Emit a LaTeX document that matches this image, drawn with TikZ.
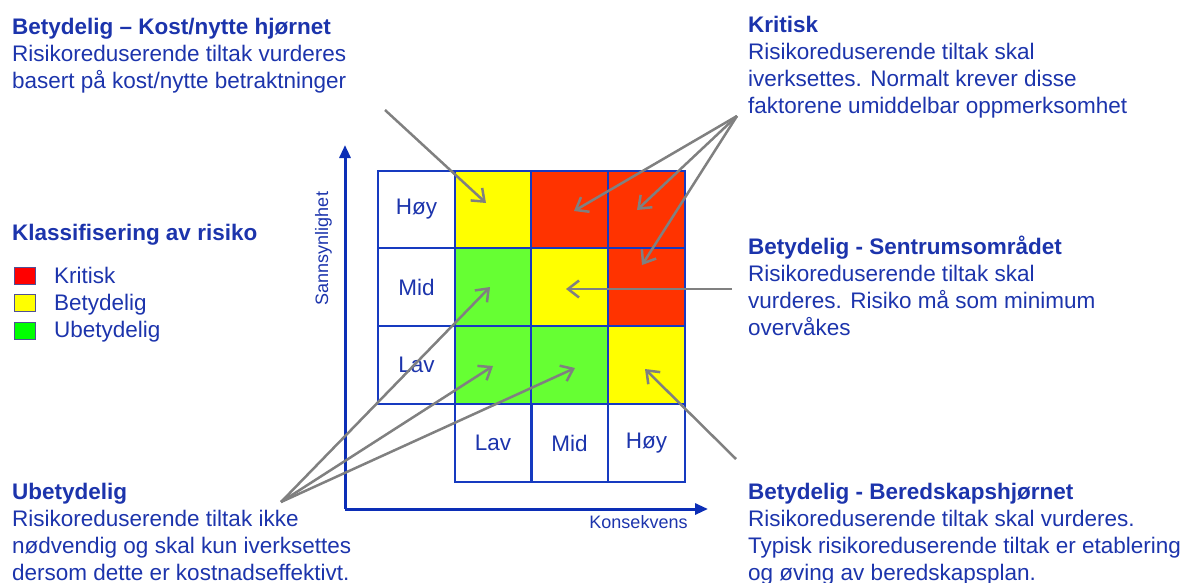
\documentclass[tikz,border=0pt]{standalone}
\usepackage{fontspec}
\setmainfont{Liberation Sans}
\usetikzlibrary{arrows.meta}
\definecolor{txtblue}{RGB}{28,52,172}
\definecolor{gridblue}{RGB}{22,58,192}
\definecolor{axisblue}{RGB}{12,46,182}
\definecolor{cellred}{RGB}{255,51,0}
\definecolor{cellyellow}{RGB}{255,255,0}
\definecolor{cellgreen}{RGB}{102,255,51}
\definecolor{legred}{RGB}{255,0,0}
\definecolor{leggreen}{RGB}{0,255,0}
\definecolor{legframe}{RGB}{80,80,150}
\definecolor{arrowgray}{RGB}{128,128,128}
\begin{document}
\begin{tikzpicture}[x=1pt,y=-1pt,
  txt/.style={text=txtblue,font=\fontsize{22.5}{27}\selectfont,inner sep=0pt,align=left,anchor=north west},
  axlabel/.style={text=txtblue,font=\fontsize{18}{20}\selectfont,inner sep=0pt,anchor=base},
  cell/.style={draw=gridblue,line width=2pt,minimum width=77pt,minimum height=77.5pt,inner sep=0pt,
    text=txtblue,font=\fontsize{22.5}{27}\selectfont},
  legbox/.style={draw=legframe,line width=1pt,minimum width=21pt,minimum height=17pt,inner sep=0pt},
  legtxt/.style={text=txtblue,font=\fontsize{22.5}{27}\selectfont,inner sep=0pt,anchor=base west},
  axisline/.style={draw=axisblue,line width=3pt,-{Triangle[length=13pt,width=11pt]}},
  garrow/.style={draw=arrowgray,line width=2.5pt,-{Straight Barb[length=11pt,width=17pt]}}
]
\useasboundingbox (0,0) rectangle (1189,582);
\clip (0,0) rectangle (1189,582);

% text blocks
\node[txt] (tl) at (12,17.5) {\textbf{Betydelig – Kost/nytte hjørnet}\\Risikoreduserende tiltak vurderes\\basert på kost/nytte betraktninger};
\node[txt] (kr) at (748,15.5) {\textbf{Kritisk}\\Risikoreduserende tiltak skal\\iverksettes. Normalt krever disse\\faktorene umiddelbar oppmerksomhet};
\node[txt] (se) at (748,235.5) {\textbf{Betydelig - Sentrumsområdet}\\Risikoreduserende tiltak skal\\vurderes. Risiko må som minimum\\overvåkes};
\node[txt] (be) at (748,482.5) {\textbf{Betydelig - Beredskapshjørnet}\\Risikoreduserende tiltak skal vurderes.\\Typisk risikoreduserende tiltak er etablering\\og øving av beredskapsplan.};
\node[txt] (ub) at (12,482.5) {\textbf{Ubetydelig}\\Risikoreduserende tiltak ikke\\nødvendig og skal kun iverksettes\\dersom dette er kostnadseffektivt.};

% legend
\node[legtxt] (lh) at (12,240) {\textbf{Klassifisering av risiko}};
\node[legbox,fill=legred] (lb1) at (25.2,275.8) {};
\node[legbox,fill=cellyellow] (lb2) at (25.2,302.7) {};
\node[legbox,fill=leggreen] (lb3) at (25.2,331) {};
\node[legtxt] (lt1) at (54,283) {Kritisk};
\node[legtxt] (lt2) at (54,310) {Betydelig};
\node[legtxt] (lt3) at (54,337.5) {Ubetydelig};

% axes
\coordinate (o) at (345,509);
\coordinate (ytop) at (345,145);
\coordinate (xend) at (708,509);
\draw[axisline] (o) -- (ytop);
\draw[axisline] (o) -- (xend);
\node[axlabel,rotate=90] (ylab) at (328,248.5) {Sannsynlighet};
\node[axlabel] (xlab) at (638.5,528) {Konsekvens};

% grid
\node[cell] (lh1) at (416.5,209.5) {Høy};
\node[cell] (lm1) at (416.5,287) {Mid};
\node[cell] (ll1) at (416.5,365) {Lav};
\node[cell] (bl) at (493,443) {Lav};
\node[cell] (bm) at (569.5,443) {Mid};
\node[cell] (bh) at (646.5,443) {Høy};
\node[cell,fill=cellyellow] (c11) at (493,209.5) {};
\node[cell,fill=cellred] (c12) at (569.5,209.5) {};
\node[cell,fill=cellred] (c13) at (646.5,209.5) {};
\node[cell,fill=cellgreen] (c21) at (493,287) {};
\node[cell,fill=cellyellow] (c22) at (569.5,287) {};
\node[cell,fill=cellred] (c23) at (646.5,287) {};
\node[cell,fill=cellgreen] (c31) at (493,365) {};
\node[cell,fill=cellgreen] (c32) at (569.5,365) {};
\node[cell,fill=cellyellow] (c33) at (646.5,365) {};

% arrow anchor points
\coordinate (sA) at (385,110);
\coordinate (tA) at (486,203);
\coordinate (sK) at (737,116);
\coordinate (tK1) at (574,211);
\coordinate (tK2) at (637,210);
\coordinate (tK3) at (642,265);
\coordinate (sS) at (732,289);
\coordinate (tS) at (566,289);
\coordinate (sU) at (281,502);
\coordinate (tU1) at (490,287);
\coordinate (tU2) at (493,366);
\coordinate (tU3) at (575,368);
\coordinate (sB) at (736,459);
\coordinate (tB) at (645,369);

\draw[garrow] (sA) -- (tA);
\draw[garrow] (sK) -- (tK1);
\draw[garrow] (sK) -- (tK2);
\draw[garrow] (sK) -- (tK3);
\draw[garrow] (sS) -- (tS);
\draw[garrow] (sU) -- (tU1);
\draw[garrow] (sU) -- (tU2);
\draw[garrow] (sU) -- (tU3);
\draw[garrow] (sB) -- (tB);
\end{tikzpicture}
\end{document}
